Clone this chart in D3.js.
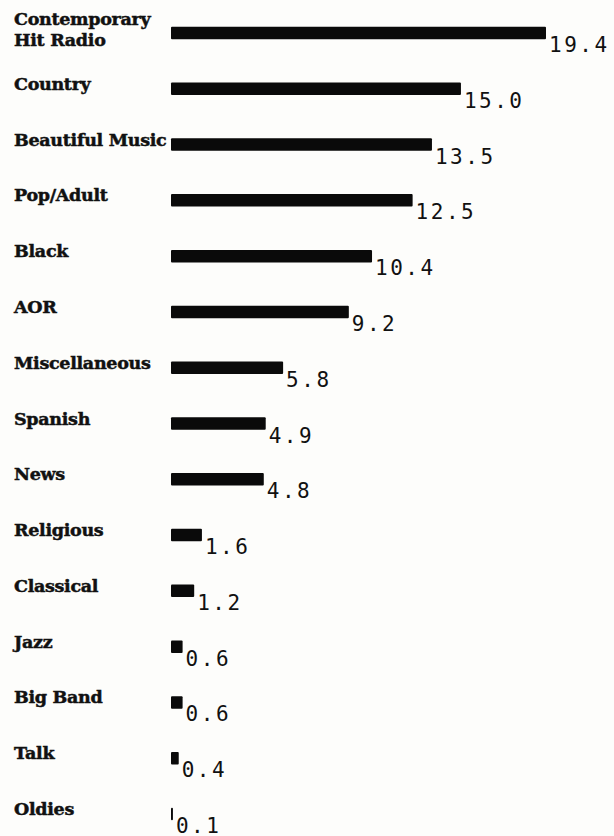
<!DOCTYPE html>
<html>
<head>
<meta charset="utf-8">
<script src="https://cdn.jsdelivr.net/npm/d3@7"></script>
<style>
  body { margin: 0; background: #fdfdfb; }
  svg { display: block; }
</style>
</head>
<body>
<div id="chart"></div>
<script>
let w = 614;
let h = 836;

// radio station formats, share in percent
let formats = ["Contemporary Hit Radio", "Country", "Beautiful Music", "Pop/Adult", "Black", "AOR",
  "Miscellaneous", "Spanish", "News", "Religious", "Classical", "Jazz", "Big Band", "Talk", "Oldies"];
let shares = [19.4, 15.0, 13.5, 12.5, 10.4, 9.2, 5.8, 4.9, 4.8, 1.6, 1.2, 0.6, 0.6, 0.4, 0.1];
// the first label wraps onto two lines
let labelLines = [["Contemporary", "Hit Radio"]];

let data = formats.map((d, i) => ({ name: d, value: shares[i] }));

let viz = d3.select("#chart")
  .append("svg")
  .attr("width", w)
  .attr("height", h)
  .attr("viewBox", "0 0 " + w + " " + h);

let barLeft = 171;
let barH = 12.5;

let x = d3.scaleLinear()
  .domain([0, 19.4])
  .range([barLeft, 546]);

let y = d3.scalePoint()
  .domain(formats)
  .range([33, 814]);

let fmt = d3.format(".1f");

let row = viz.selectAll("g.row")
  .data(data)
  .join("g")
  .attr("class", "row")
  .attr("transform", d => `translate(0, ${y(d.name)})`);

// category names, heavy slab look
row.append("text")
  .attr("class", "label")
  .attr("x", 14)
  .attr("font-family", "'DejaVu Serif', serif")
  .attr("font-weight", "bold")
  .attr("font-size", 17.5)
  .attr("letter-spacing", -0.3)
  .attr("fill", "#111")
  .attr("stroke", "#111")
  .attr("stroke-width", 0.5)
  .each(function (d, i) {
    let lines = labelLines[i] || [d.name];
    let t = d3.select(this);
    if (lines.length == 1) {
      t.attr("y", 1).text(lines[0]);
    } else {
      t.selectAll("tspan")
        .data(lines)
        .join("tspan")
        .attr("x", 14)
        .attr("y", (l, j) => -8 + j * 21)
        .text(l => l);
    }
  });

// bars
row.append("rect")
  .attr("x", x(0))
  .attr("y", -barH / 2)
  .attr("width", d => x(d.value) - x(0))
  .attr("height", barH)
  .attr("rx", 1)
  .attr("fill", "#0a0a0a");

// values, sitting low to the right of each bar
row.append("text")
  .attr("class", "value")
  .attr("x", d => x(d.value) + 3)
  .attr("y", 19)
  .attr("font-family", "'DejaVu Sans Mono', monospace")
  .attr("font-size", 21)
  .attr("letter-spacing", 2.5)
  .attr("fill", "#111")
  .text(d => fmt(d.value));
</script>
</body>
</html>
